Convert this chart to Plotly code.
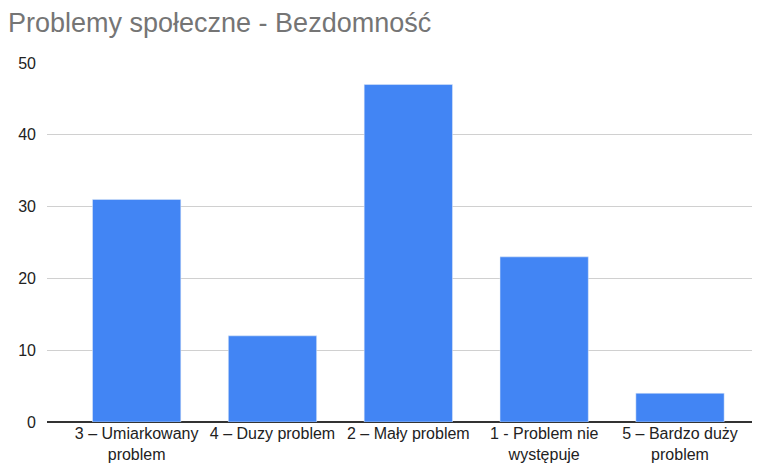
import plotly.graph_objects as go

categories = ["3 – Umiarkowany<br>problem", "4 – Duzy problem", "2 – Mały problem",
              "1 - Problem nie<br>występuje", "5 – Bardzo duży<br>problem"]
values = [31, 12, 47, 23, 4]
y_ticks = [0, 10, 20, 30, 40, 50]

fig = go.Figure(go.Bar(x=list(range(len(categories))), y=values, marker_color="#4285F4",
                       width=0.65))

fig.update_layout(
    width=761, height=463,
    margin=dict(l=47, r=9, t=63, b=41, autoexpand=False),
    paper_bgcolor="white", plot_bgcolor="white",
    font=dict(family="Liberation Sans, Arial", size=16, color="#222222"),
    title=dict(text="Problemy społeczne - Bezdomność", x=8/761, xanchor="left",
               xref="container", y=1 - 23/463, yanchor="middle", yref="container",
               pad=dict(l=0, r=0, t=0, b=0),
               font=dict(size=27, color="#757575", family="Liberation Sans, Arial")),
    showlegend=False,
)
fig.update_xaxes(tickvals=list(range(len(categories))), ticktext=categories,
                 range=[-0.66, 4.53], showgrid=False, zeroline=False, showline=False,
                 ticks="", automargin=False, ticklabelstandoff=0,
                 tickfont=dict(size=16, color="#222222"))
fig.update_yaxes(range=[0, 50], tickvals=y_ticks, showgrid=True, gridcolor="#d0d0d0",
                 gridwidth=1, zeroline=True, zerolinecolor="#333333", zerolinewidth=1.5,
                 ticks="", automargin=False, ticklabelstandoff=10,
                 tickfont=dict(size=16, color="#222222"))

fig.write_html("out.html", config={"displayModeBar": False},
               post_script="document.body.style.margin='0';")
